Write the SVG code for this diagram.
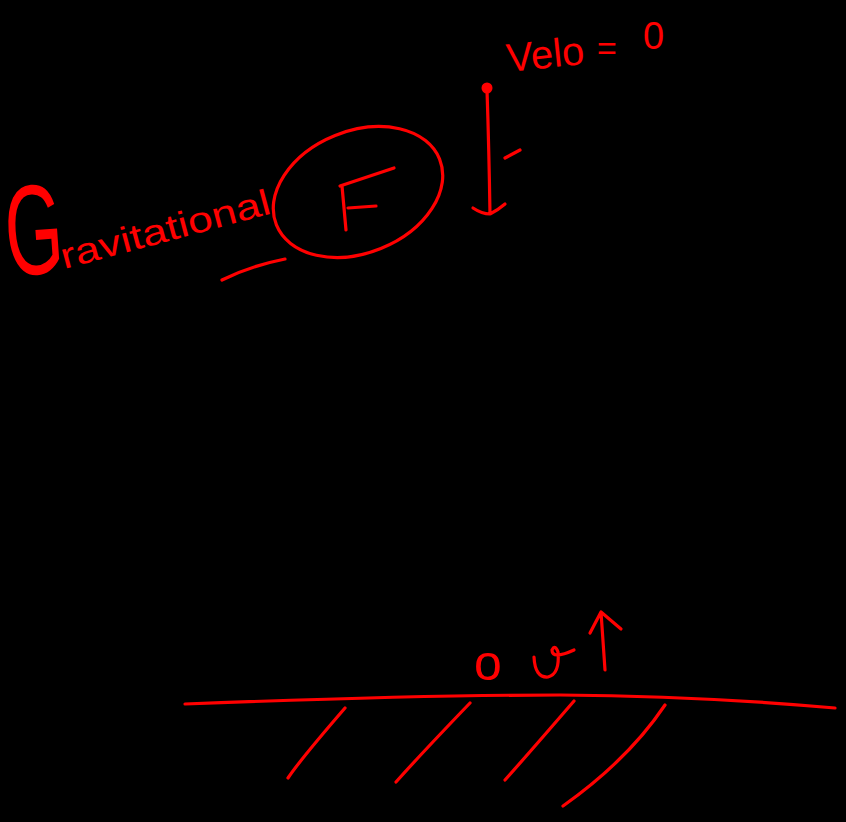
<svg xmlns="http://www.w3.org/2000/svg" width="846" height="822" viewBox="0 0 846 822">
<style>
.s{fill:none;stroke:#ff0000;stroke-width:3.2;stroke-linecap:round;stroke-linejoin:round}
.t{fill:#ff0000;font-family:"Liberation Sans","DejaVu Sans",sans-serif}
</style>
<rect width="846" height="822" fill="#000"/>
<g id="gravity-label">
<text class="t" x="0" y="0" font-size="128" transform="translate(8 276) rotate(-4) scale(0.58 1)">G</text>
<text class="t" x="64" y="269" font-size="36" textLength="216" lengthAdjust="spacingAndGlyphs" transform="rotate(-15 64 269)">ravitational</text>
</g>
<g id="force-circle">
<ellipse class="s" cx="358" cy="192" rx="88" ry="61" transform="rotate(-22 358 192)"/>
<path class="s" d="M222 280 Q250 266 285 259"/>
<path class="s" d="M342 186 L346 230 M340 186 L394 168 M348 208 L376 206"/>
</g>
<g id="velocity-label">
<text class="t" x="508" y="72" font-size="40" transform="rotate(-6 508 72)">Velo</text>
<text class="t" x="597" y="60" font-size="34">=</text>
<text class="t" x="643" y="49" font-size="38">0</text>
</g>
<g id="ball">
<circle cx="487" cy="88" r="5.5" fill="#ff0000"/>
<path class="s" d="M487 90 Q489 150 490 214 M473 208 Q482 214 490 214 Q498 210 505 204"/>
<path class="s" d="M505 158 L520 150"/>
</g>
<g id="ground">
<path class="s" d="M185 704 Q420 695 560 695 Q700 696 835 708"/>
<path class="s" d="M345 708 Q300 760 288 778"/>
<path class="s" d="M470 703 Q420 755 396 782"/>
<path class="s" d="M574 701 Q530 752 505 780"/>
<path class="s" d="M665 705 Q628 760 563 806"/>
</g>
<g id="bottom-label">
<text class="t" x="474" y="680" font-size="50">o</text>
<path class="s" d="M534 657 Q535 678 548 677 Q560 674 558 652 Q555 644 552 650 Q552 660 574 650"/>
<path class="s" d="M605 670 L601 612 M590 633 L601 612 L621 629"/>
</g>
</svg>
